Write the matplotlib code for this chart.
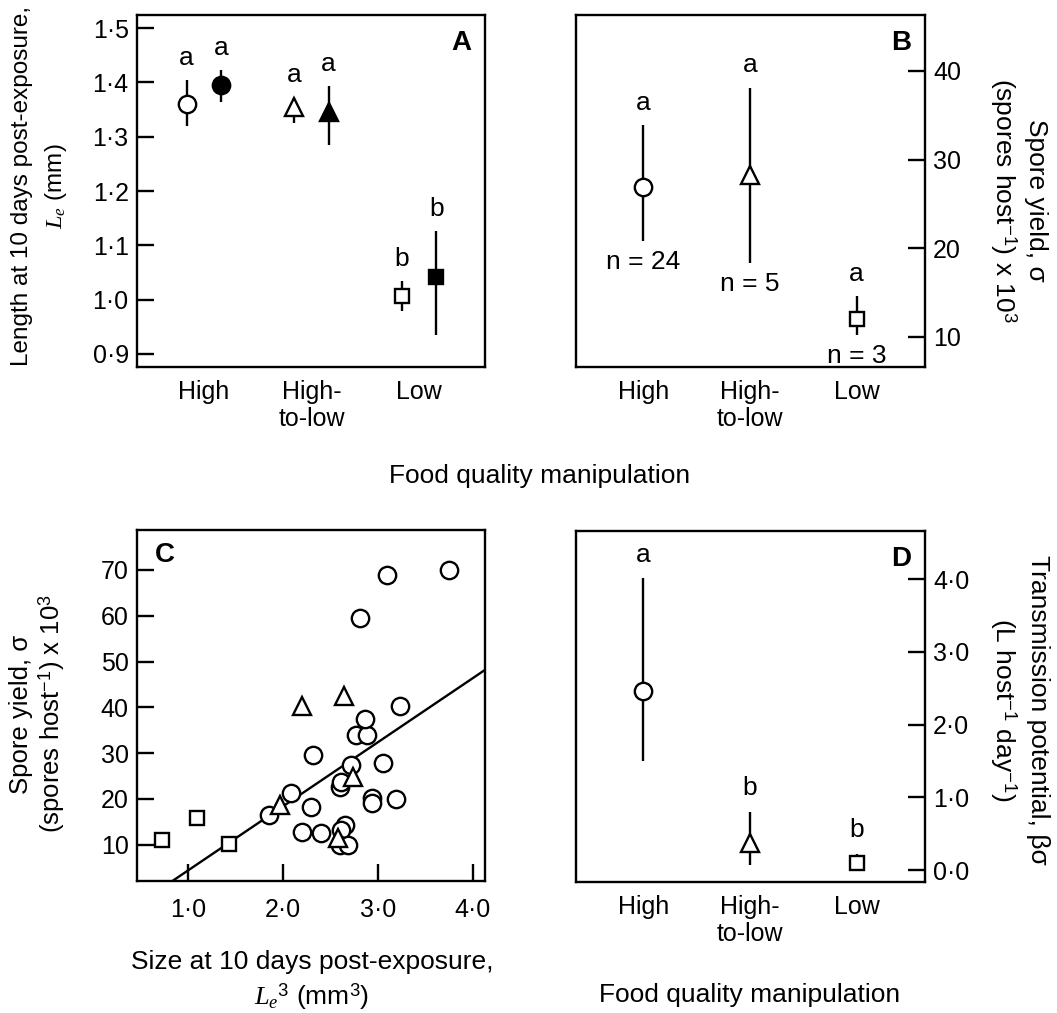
import matplotlib
matplotlib.use("Agg")
import matplotlib.pyplot as plt

plt.rcParams['font.family'] = ['Liberation Sans', 'DejaVu Sans']
plt.rcParams['font.size'] = 19
plt.rcParams['mathtext.fontset'] = 'custom'
plt.rcParams['mathtext.rm'] = 'Liberation Sans'
plt.rcParams['mathtext.it'] = 'Liberation Serif:italic'

# categories
groups = ["High", "High-\nto-low", "Low"]
markers = ['o', '^', 's']

# panel A: length at 10 days post-exposure
A_open_mean = [1.361, 1.354, 1.006]
A_open_lo = [1.319, 1.326, 0.980]
A_open_hi = [1.404, 1.372, 1.034]
A_open_let = ['a', 'a', 'b']
A_fill_mean = [1.395, 1.345, 1.041]
A_fill_lo = [1.363, 1.285, 0.935]
A_fill_hi = [1.422, 1.393, 1.126]
A_fill_let = ['a', 'a', 'b']
A_ticks = [0.9, 1.0, 1.1, 1.2, 1.3, 1.4, 1.5]
A_ticklabels = ['0·9', '1·0', '1·1', '1·2', '1·3', '1·4', '1·5']

# panel B: spore yield
B_mean = [26.9, 28.2, 12.0]
B_lo = [20.8, 18.3, 10.2]
B_hi = [33.9, 38.1, 14.6]
B_let = ['a', 'a', 'a']
B_n = [24, 5, 3]
B_ticks = [10, 20, 30, 40]

# panel C: spore yield vs size
C_circ_x = [1.853, 2.08, 2.316, 2.30, 2.20, 2.40, 2.60, 2.61, 2.65, 2.61, 2.60, 2.68,
            2.72, 2.765, 2.88, 2.86, 2.81, 3.09, 3.75, 3.23, 3.05, 2.94, 2.94, 3.19]
C_circ_y = [16.4, 21.3, 29.5, 18.2, 12.9, 12.5, 22.7, 23.8, 14.4, 13.3, 10.0, 10.0,
            27.5, 34.0, 34.0, 37.4, 59.6, 68.9, 70.0, 40.4, 27.8, 20.2, 19.1, 20.0]
C_tri_x = [1.965, 2.20, 2.64, 2.74, 2.58]
C_tri_y = [18.7, 40.2, 42.4, 24.9, 11.5]
C_sq_x = [0.726, 1.098, 1.43]
C_sq_y = [11.1, 15.8, 10.2]
C_fit_slope = 14.0
C_fit_icpt = -9.6
C_fit_x = [0.4, 4.2]
C_xticks = [1.0, 2.0, 3.0, 4.0]
C_xticklabels = ['1·0', '2·0', '3·0', '4·0']
C_yticks = [10, 20, 30, 40, 50, 60, 70]

# panel D: transmission potential
D_mean = [2.46, 0.37, 0.10]
D_lo = [1.50, 0.07, 0.0]
D_hi = [4.01, 0.80, 0.22]
D_let = ['a', 'b', 'b']
D_ticks = [0.0, 1.0, 2.0, 3.0, 4.0]
D_ticklabels = ['0·0', '1·0', '2·0', '3·0', '4·0']

W, H = 1057, 1013
fig = plt.figure(figsize=(W / 100, H / 100), dpi=100)
axA = fig.add_axes([0.1296, 0.6377, 0.3292, 0.3475])
axB = fig.add_axes([0.545, 0.6377, 0.330, 0.3475])
axC = fig.add_axes([0.1296, 0.1303, 0.3292, 0.3465])
axD = fig.add_axes([0.545, 0.1293, 0.330, 0.3465])

lw = 1.7
tfs = 18
for ax in (axA, axB, axC, axD):
    for s in ax.spines.values():
        s.set_linewidth(lw)
    ax.tick_params(direction='in', length=12, width=lw, labelsize=tfs)


def pt(ax, x, m, lo, hi, mk, filled, ms):
    ax.errorbar([x], [m], yerr=[[m - lo], [hi - m]], fmt=mk, color='black',
                ecolor='black', elinewidth=lw, capsize=0, ms=ms, mew=1.7,
                mfc='black' if filled else 'white', mec='black')


def letter(ax, x, y, s, dy):
    ax.annotate(s, (x, y), xytext=(0, dy), textcoords='offset points',
                ha='center', va='center', fontsize=19)


def ftext(px, py, s, **kw):
    # place text by pixel position (from top-left)
    fig.text(px / W, 1 - py / H, s, ha='center', va='center', **kw)


msz = {'o': 12.5, '^': 13.5, 's': 10}
off = 0.16

# A
for i in range(3):
    mk = markers[i]
    pt(axA, i - off, A_open_mean[i], A_open_lo[i], A_open_hi[i], mk, False, msz[mk])
    pt(axA, i + off, A_fill_mean[i], A_fill_lo[i], A_fill_hi[i], mk, True, msz[mk])
    letter(axA, i - off, A_open_hi[i], A_open_let[i], 16)
    letter(axA, i + off, A_fill_hi[i], A_fill_let[i], 16)
axA.set_xlim(-0.62, 2.61)
axA.set_ylim(0.876, 1.524)
axA.set_yticks(A_ticks)
axA.set_yticklabels(A_ticklabels)
axA.set_xticks(range(3))
axA.set_xticklabels(groups)
axA.tick_params(axis='x', length=0, pad=9)
axA.tick_params(axis='y', pad=6)
ftext(40, 186, "Length at 10 days post-exposure,\n$L_e$ (mm)", rotation=90,
      fontsize=17.5, linespacing=1.5)
axA.text(0.96, 0.92, 'A', transform=axA.transAxes, ha='right', va='center',
         fontsize=20, fontweight='bold')

# B
for i in range(3):
    mk = markers[i]
    pt(axB, i, B_mean[i], B_lo[i], B_hi[i], mk, False, msz[mk])
    letter(axB, i, B_hi[i], B_let[i], 16)
    axB.annotate("n = %d" % B_n[i], (i, B_lo[i]), xytext=(0, -15),
                 textcoords='offset points', ha='center', va='center', fontsize=19)
axB.set_xlim(-0.63, 2.64)
axB.set_ylim(6.6, 46.3)
axB.yaxis.tick_right()
axB.set_yticks(B_ticks)
axB.set_xticks(range(3))
axB.set_xticklabels(groups)
axB.tick_params(axis='x', length=0, pad=9)
axB.tick_params(axis='y', pad=6)
ftext(1018, 200, "Spore yield, σ\n(spores host$^{-1}$) x 10$^3$", rotation=270,
      fontsize=19, linespacing=1.2)
axB.text(0.96, 0.92, 'B', transform=axB.transAxes, ha='right', va='center',
         fontsize=20, fontweight='bold')

ftext(540, 476, "Food quality manipulation", fontsize=19)

# C
axC.plot(C_fit_x, [C_fit_slope * x + C_fit_icpt for x in C_fit_x], color='black', lw=1.7)
axC.plot(C_circ_x, C_circ_y, 'o', ms=12.5, mfc='white', mec='black', mew=1.7)
axC.plot(C_tri_x, C_tri_y, '^', ms=13, mfc='white', mec='black', mew=1.7)
axC.plot(C_sq_x, C_sq_y, 's', ms=10, mfc='white', mec='black', mew=1.7)
axC.set_xlim(0.463, 4.126)
axC.set_ylim(2.1, 78.7)
axC.set_xticks(C_xticks)
axC.set_xticklabels(C_xticklabels)
axC.set_yticks(C_yticks)
axC.tick_params(axis='x', pad=12)
axC.tick_params(axis='y', pad=6)
ftext(38, 714, "Spore yield, σ\n(spores host$^{-1}$) x 10$^3$", rotation=90,
      fontsize=18.5, linespacing=1.15)
ftext(312, 981, "Size at 10 days post-exposure,\n$L_e$$^3$ (mm$^3$)", fontsize=19,
      linespacing=1.3)
axC.text(0.05, 0.93, 'C', transform=axC.transAxes, ha='left', va='center',
         fontsize=20, fontweight='bold')

# D
for i in range(3):
    mk = markers[i]
    pt(axD, i, D_mean[i], D_lo[i], D_hi[i], mk, False, msz[mk])
    letter(axD, i, D_hi[i], D_let[i], 17)
axD.set_xlim(-0.63, 2.64)
axD.set_ylim(-0.165, 4.66)
axD.yaxis.tick_right()
axD.set_yticks(D_ticks)
axD.set_yticklabels(D_ticklabels)
axD.set_xticks(range(3))
axD.set_xticklabels(groups)
axD.tick_params(axis='x', length=0, pad=9)
axD.tick_params(axis='y', pad=6)
ftext(1019, 710, "Transmission potential, βσ\n(L host$^{-1}$ day$^{-1}$)", rotation=270,
      fontsize=19, linespacing=1.3)
ftext(750, 995, "Food quality manipulation", fontsize=19)
axD.text(0.96, 0.92, 'D', transform=axD.transAxes, ha='right', va='center',
         fontsize=20, fontweight='bold')

fig.savefig("out.png", dpi=100)
